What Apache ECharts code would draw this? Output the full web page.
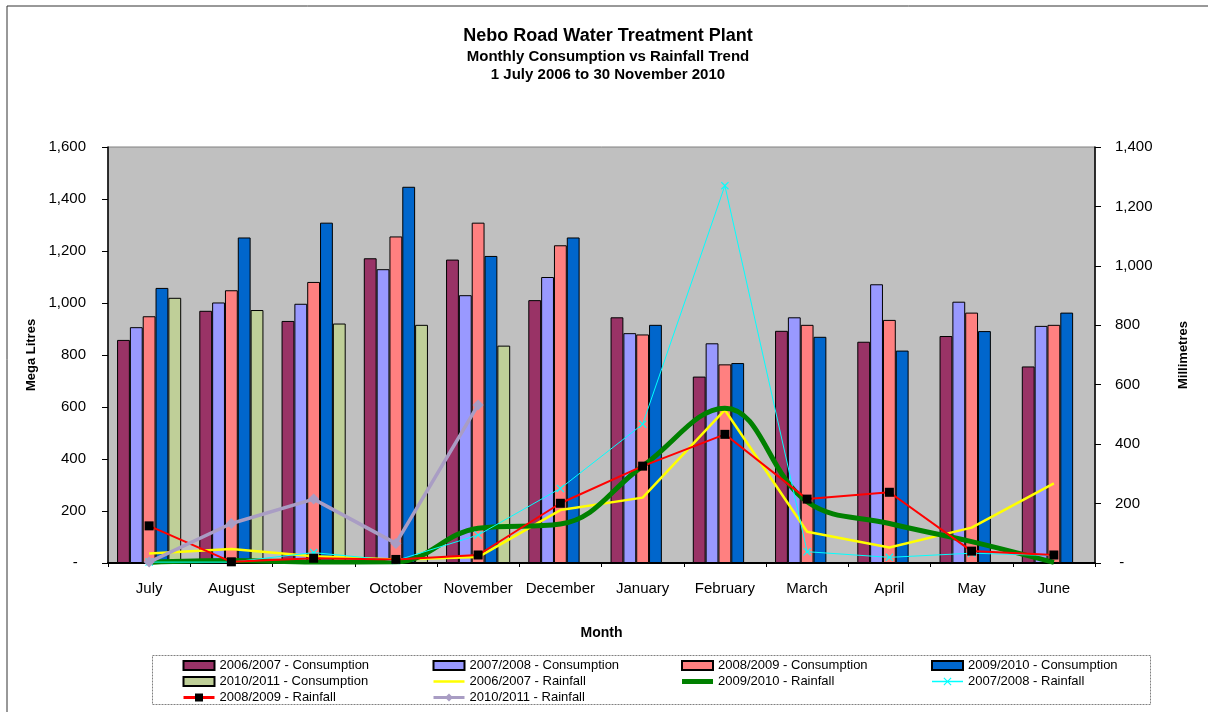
<!DOCTYPE html>
<html>
<head>
<meta charset="utf-8">
<script src="https://cdn.jsdelivr.net/npm/echarts@6/dist/echarts.min.js"></script>
<style>html,body{margin:0;padding:0;background:#fff}#c{width:1208px;height:712px}</style>
</head>
<body>
<div id="c"></div>
<script>
const months = ['July','August','September','October','November','December','January','February','March','April','May','June'];
const cons0607 = [858, 970, 931, 1172, 1167, 1011, 945, 717, 893, 851, 873, 756];
const cons0708 = [907, 1002, 997, 1130, 1030, 1100, 884, 845, 945, 1072, 1005, 912];
const cons0809 = [949, 1049, 1081, 1256, 1309, 1222, 879, 764, 916, 935, 963, 916];
const cons0910 = [1058, 1252, 1309, 1447, 1181, 1252, 916, 769, 870, 817, 892, 963];
const cons1011 = [1020, 973, 921, 916, 836, null, null, null, null, null, null, null];
const rain0607 = [32, 47, 23, 12, 20, 178, 220, 515, 105, 52, 119, 268];
const rain0910 = [2, 8, 3, 4, 117, 131, 326, 521, 206, 133, 72, 2];
const rain0708 = [3, 3, 35, 8, 94, 251, 467, 1270, 38, 19, 33, 25];
const rain0809 = [125, 4, 16, 12, 27, 201, 326, 433, 215, 238, 40, 27];
const rain1011 = [3, 133, 215, 66, 532, null, null, null, null, null, null, null];
const leftTicks = {min: 0, max: 1600, interval: 200};
const rightTicks = {min: 0, max: 1400, interval: 200};

const FONT = '"Liberation Sans", Arial, sans-serif';
const chart = echarts.init(document.getElementById('c'), null, {renderer: 'canvas'});

function fmt(v, pad) {
  if (v === 0) return pad;
  return v.toLocaleString('en-US');
}

function barSeries(name, data, color) {
  return {
    name, type: 'bar', data, yAxisIndex: 0,
    barGap: '0%', barCategoryGap: '22%',
    itemStyle: {color, borderColor: '#000', borderWidth: 1},
    emphasis: {disabled: true}
  };
}

const xPath = 'path://M0,1L1,0L5,4L9,0L10,1L6,5L10,9L9,10L5,6L1,10L0,9L4,5Z';
// thin horizontal stripe icons centred in the legend box (degenerate points keep the full box)
const thinLine = 'path://M0,0L0.01,0M0,3.8L31,3.8L31,6.2L0,6.2ZM0,10L0.01,10';
const thickLine = 'path://M0,0L0.01,0M0,2.5L31,2.5L31,7.5L0,7.5ZM0,10L0.01,10';
const barIcon = 'path://M0,0.5L31,0.5L31,9.5L0,9.5Z';

const legendBase = {
  orient: 'vertical', top: 659, height: 70, padding: 0, itemWidth: 31, itemHeight: 10, itemGap: 3,
  textStyle: {fontFamily: FONT, fontSize: 13, color: '#000', lineHeight: 13},
  selectedMode: false
};

chart.setOption({
  animation: false,
  backgroundColor: '#fff',
  textStyle: {fontFamily: FONT},
  graphic: [
    {type: 'rect', shape: {x: 7, y: 6, width: 1220, height: 730}, style: {fill: 'none', stroke: '#333', lineWidth: 1}, silent: true, z: -1},
    {type: 'rect', shape: {x: 152.5, y: 655.5, width: 998, height: 49}, style: {fill: '#fff', stroke: '#808080', lineWidth: 1, lineDash: [2, 1]}, silent: true, z: -1},
    {type: 'text', x: 608, y: 36, style: {text: 'Nebo Road Water Treatment Plant', font: 'bold 18px ' + FONT, fill: '#000', textAlign: 'center', textVerticalAlign: 'middle'}},
    {type: 'text', x: 608, y: 57, style: {text: 'Monthly Consumption vs Rainfall Trend', font: 'bold 15px ' + FONT, fill: '#000', textAlign: 'center', textVerticalAlign: 'middle'}},
    {type: 'text', x: 608, y: 75, style: {text: '1 July 2006 to 30 November 2010', font: 'bold 15px ' + FONT, fill: '#000', textAlign: 'center', textVerticalAlign: 'middle'}}
  ],
  grid: {left: 108, right: 113, top: 147, bottom: 149, show: true, backgroundColor: '#C0C0C0', borderColor: '#808080', borderWidth: 1},
  legend: [
    Object.assign({}, legendBase, {left: 182, data: [
      {name: '2006/2007 - Consumption', icon: barIcon},
      {name: '2010/2011 - Consumption', icon: barIcon},
      {name: '2008/2009 - Rainfall', lineStyle: {width: 3}}]}),
    Object.assign({}, legendBase, {left: 432, data: [
      {name: '2007/2008 - Consumption', icon: barIcon},
      {name: '2006/2007 - Rainfall', icon: thinLine},
      {name: '2010/2011 - Rainfall', lineStyle: {width: 3}}]}),
    Object.assign({}, legendBase, {left: 681, data: [
      {name: '2008/2009 - Consumption', icon: barIcon},
      {name: '2009/2010 - Rainfall', icon: thickLine}]}),
    Object.assign({}, legendBase, {left: 931, data: [
      {name: '2009/2010 - Consumption', icon: barIcon},
      {name: '2007/2008 - Rainfall', lineStyle: {width: 1.5}}]})
  ],
  xAxis: {
    type: 'category', data: months, boundaryGap: true,
    name: 'Month', nameLocation: 'middle', nameGap: 63,
    nameTextStyle: {fontFamily: FONT, fontSize: 14, fontWeight: 'bold', color: '#000'},
    axisLine: {lineStyle: {color: '#000', width: 2}},
    axisTick: {show: true, length: 4, alignWithLabel: false, lineStyle: {color: '#000', width: 1}},
    axisLabel: {fontFamily: FONT, fontSize: 15, color: '#000', margin: 18, interval: 0},
    splitLine: {show: false}
  },
  yAxis: [
    {
      type: 'value', position: 'left', min: leftTicks.min, max: leftTicks.max, interval: leftTicks.interval,
      name: 'Mega Litres', nameLocation: 'middle', nameGap: 68, nameRotate: 90,
      nameTextStyle: {fontFamily: FONT, fontSize: 13, fontWeight: 'bold', color: '#000'},
      axisLine: {show: true, lineStyle: {color: '#000', width: 1.5}},
      axisTick: {show: true, length: 6, lineStyle: {color: '#000'}},
      axisLabel: {fontFamily: FONT, fontSize: 15, color: '#000', margin: 22, formatter: v => fmt(v, '-  ')},
      splitLine: {show: false}
    },
    {
      type: 'value', position: 'right', min: rightTicks.min, max: rightTicks.max, interval: rightTicks.interval,
      name: 'Millimetres', nameLocation: 'middle', nameGap: 82, nameRotate: 90,
      nameTextStyle: {fontFamily: FONT, fontSize: 13, fontWeight: 'bold', color: '#000'},
      axisLine: {show: true, lineStyle: {color: '#000', width: 1.5}},
      axisTick: {show: true, length: 6, lineStyle: {color: '#000'}},
      axisLabel: {fontFamily: FONT, fontSize: 15, color: '#000', margin: 20, formatter: v => fmt(v, ' -')},
      splitLine: {show: false}
    }
  ],
  series: [
    barSeries('2006/2007 - Consumption', cons0607, '#993366'),
    barSeries('2007/2008 - Consumption', cons0708, '#9999FF'),
    barSeries('2008/2009 - Consumption', cons0809, '#FF8080'),
    barSeries('2009/2010 - Consumption', cons0910, '#0066CC'),
    barSeries('2010/2011 - Consumption', cons1011, '#BFCF98'),
    {name: '2006/2007 - Rainfall', type: 'line', yAxisIndex: 1, data: rain0607, symbol: 'none',
      lineStyle: {color: '#FFFF00', width: 2.5}, itemStyle: {color: '#FFFF00'}, z: 3},
    {name: '2009/2010 - Rainfall', type: 'line', yAxisIndex: 1, data: rain0910, symbol: 'none', smooth: 0.4,
      lineStyle: {color: '#008000', width: 5}, itemStyle: {color: '#008000'}, z: 4},
    {name: '2007/2008 - Rainfall', type: 'line', yAxisIndex: 1, data: rain0708, symbol: xPath, symbolSize: 8, showSymbol: true,
      lineStyle: {color: '#00FFFF', width: 1}, itemStyle: {color: '#00FFFF'}, z: 5},
    {name: '2008/2009 - Rainfall', type: 'line', yAxisIndex: 1, data: rain0809, symbol: 'rect', symbolSize: 9,
      lineStyle: {color: '#FF0000', width: 2}, itemStyle: {color: '#000000'}, z: 6},
    {name: '2010/2011 - Rainfall', type: 'line', yAxisIndex: 1, data: rain1011, symbol: 'diamond', symbolSize: 11,
      lineStyle: {color: '#A99DC4', width: 3.5}, itemStyle: {color: '#A99DC4'}, z: 7}
  ]
});
</script>
</body>
</html>
